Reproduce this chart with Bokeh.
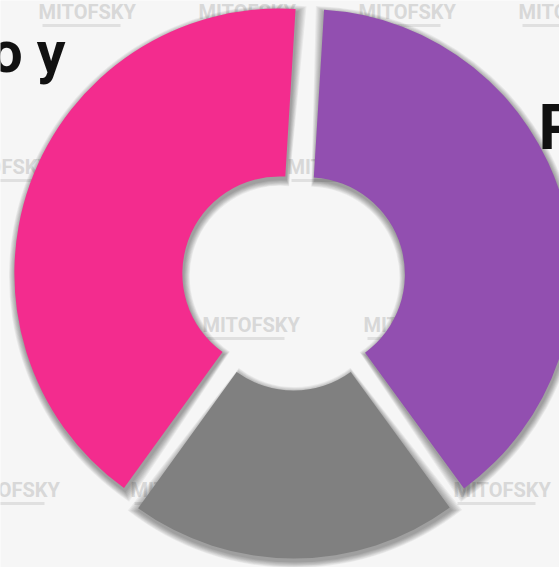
import numpy as np
from bokeh.plotting import figure
from bokeh.models import Range1d
from bokeh.core.properties import value
from bokeh.embed import file_html
from bokeh.resources import INLINE

# ---- data ----
categories = ["Segmento morado", "Segmento gris", "Segmento rosa"]
shares = [39, 20, 41]
colors = ["#924FB0", "#808080", "#F32C8E"]
start_clock_deg = 3.5  # first slice starts a little right of 12 o'clock
label_left = "o y"
label_right = "P"
watermark = "MITOFSKY"

# ---- layout (reference pixel space, y flipped to go up) ----
W, H = 559, 567
def Y(ref_y):
    return H - ref_y

cx, cy = 293, Y(278)
R_out, R_in, explode = 265, 97, 15

p = figure(width=W, height=H, x_range=Range1d(0, W), y_range=Range1d(0, H),
           output_backend="svg", toolbar_location=None, min_border=0)
p.axis.visible = False
p.grid.visible = False
p.outline_line_color = None
p.background_fill_color = "#F6F6F6"
p.border_fill_color = "#F6F6F6"

# faint watermark
wm_x, wm_y = [], []
rows = [(11, [38, 198, 358, 518]), (166, [-48, 118, 287, 447]),
        (324, [40, 202, 363, 522]), (489, [-38, 130, 292, 453])]
for ry, xs in rows:
    for xx in xs:
        wm_x.append(xx)
        wm_y.append(Y(ry))
p.text(x=wm_x, y=wm_y, text=[watermark] * len(wm_x), text_font=value("Roboto"),
       text_font_style="bold", text_font_size="20px", text_color="#D8D8D8",
       text_baseline="middle", text_align="left")
p.rect(x=[xx + 43 for xx in wm_x], y=[yy - 14 for yy in wm_y], width=78, height=3,
       fill_color="#E0E0E0", line_color=None)

# slice geometry from the shares
frac = np.array(shares, dtype=float) / np.sum(shares)
clock_start = start_clock_deg + 360 * np.concatenate([[0], np.cumsum(frac)[:-1]])
clock_end = clock_start + 360 * frac
# bokeh angles: counter-clockwise from +x
a_start = np.deg2rad(90 - clock_end)
a_end = np.deg2rad(90 - clock_start)
mid = (a_start + a_end) / 2
ox = cx + explode * np.cos(mid)
oy = cy + explode * np.sin(mid)

# soft shadows
rho = (R_in + R_out) / 2
for k in range(1, 9):
    p.annular_wedge(x=ox + 1, y=oy - 3, inner_radius=R_in - k * 0.8, outer_radius=R_out + k * 0.8,
                    start_angle=a_start - k * 0.8 / rho, end_angle=a_end + k * 0.8 / rho,
                    fill_color="black", fill_alpha=0.05, line_color=None)

p.annular_wedge(x=ox, y=oy, inner_radius=R_in, outer_radius=R_out,
                start_angle=a_start, end_angle=a_end, fill_color=colors, line_color=None)

# cut-off labels
p.text(x=[65], y=[Y(52)], text=[label_left], text_font=value("Roboto"), text_font_style="bold",
       text_font_size="57px", text_color="#111111", text_align="right", text_baseline="alphabetic")
p.text(x=[538], y=[Y(127)], text=[label_right], text_font=value("Roboto"), text_font_style="bold",
       text_font_size="63px", text_color="#111111", text_align="left", text_baseline="alphabetic")

open("out.html", "w").write(file_html(p, INLINE))
